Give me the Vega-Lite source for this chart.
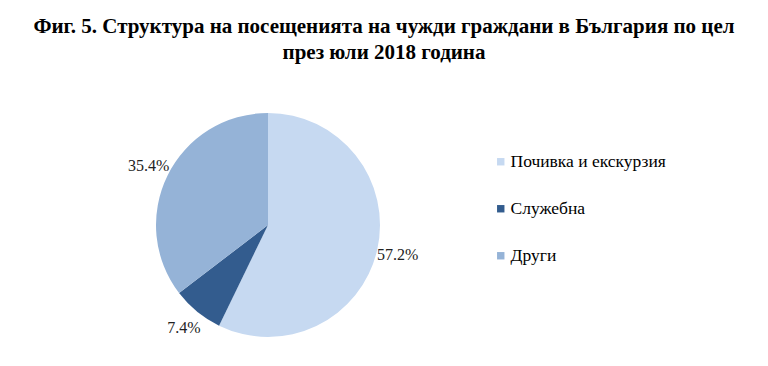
{
  "$schema": "https://vega.github.io/schema/vega-lite/v6.json",
  "autosize": {"type": "none"},
  "width": 224,
  "height": 224,
  "padding": {"left": 156, "top": 113, "right": 388, "bottom": 29},
  "background": "white",
  "title": {
    "text": ["Фиг. 5. Структура на посещенията на чужди граждани в България по цел", "през юли 2018 година"],
    "font": "Liberation Serif",
    "fontSize": 21,
    "fontWeight": "bold",
    "color": "#000000",
    "anchor": "middle",
    "dx": 116,
    "offset": 50,
    "lineHeight": 26
  },
  "data": {
    "values": [
      {"cat": "Почивка и екскурзия", "value": 57.2, "idx": 1, "label": "57.2%"},
      {"cat": "Служебна", "value": 7.4, "idx": 2, "label": "7.4%"},
      {"cat": "Други", "value": 35.4, "idx": 3, "label": "35.4%"}
    ]
  },
  "encoding": {
    "theta": {"field": "value", "type": "quantitative", "stack": true},
    "order": {"field": "idx", "type": "quantitative"},
    "color": {
      "field": "cat",
      "type": "nominal",
      "scale": {"domain": ["Почивка и екскурзия", "Служебна", "Други"], "range": ["#C6D9F1", "#335C8E", "#95B3D7"]},
      "legend": {
        "title": null,
        "orient": "none",
        "legendX": 336,
        "legendY": 40,
        "symbolType": "square",
        "symbolSize": 55,
        "labelFont": "Liberation Serif",
        "labelFontSize": 17.5,
        "labelColor": "#000000",
        "rowPadding": 28,
        "labelOffset": 1
      }
    }
  },
  "layer": [
    {"mark": {"type": "arc", "outerRadius": 112}},
    {
      "mark": {"type": "text", "radius": 133, "font": "Liberation Serif", "fontSize": 16, "color": "#222222"},
      "encoding": {"text": {"field": "label"}, "color": {"value": "#222222"}}
    }
  ],
  "config": {"view": {"stroke": null}}
}
